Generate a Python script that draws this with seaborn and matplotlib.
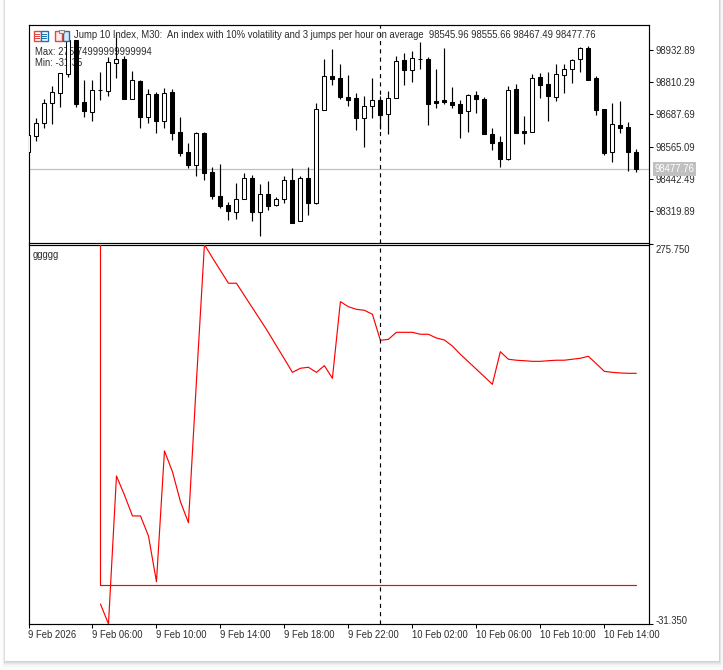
import matplotlib
matplotlib.use("Agg")
import matplotlib.pyplot as plt
from matplotlib.patches import Rectangle
from matplotlib.ticker import FixedLocator
from matplotlib.transforms import ScaledTranslation
import pandas as pd
import seaborn as sns

# 30 minute candles, Jump 10 Index
opens = [98545.5, 98606.6, 98653.7, 98732.7, 98771.0, 98843.6, 98972.2, 98734.0, 98698.3, 98779.9,
         98778.6, 98885.6, 98898.4, 98748.0, 98815.5, 98679.2, 98764.6, 98663.9, 98772.2, 98620.6,
         98544.2, 98495.8, 98616.8, 98467.8, 98374.8, 98340.3, 98316.1, 98363.3, 98443.5, 98316.1,
         98382.4, 98340.3, 98363.3, 98435.9, 98279.2, 98443.5, 98350.5, 98706.0, 98833.4, 98825.7,
         98753.1, 98749.3, 98675.4, 98718.7, 98741.7, 98690.7, 98749.3, 98894.5, 98856.3, 98898.4,
         98898.4, 98737.8, 98741.7, 98734.0, 98726.4, 98699.6, 98760.8, 98745.5, 98611.7, 98581.1,
         98518.7, 98783.7, 98623.2, 98621.9, 98829.6, 98802.8, 98755.7, 98837.2, 98860.1, 98898.4,
         98940.4, 98825.7, 98707.3, 98545.5, 98646.1, 98638.5, 98545.96]
highs = [98611.7, 98672.9, 98746.8, 98796.4, 98844.8, 98976.1, 98972.2, 98819.4, 98819.4, 98849.9,
         98907.3, 98997.7, 98912.4, 98853.8, 98819.4, 98785.0, 98774.8, 98788.8, 98783.7, 98678.0,
         98578.6, 98620.6, 98620.6, 98486.9, 98498.3, 98353.1, 98427.0, 98462.6, 98455.0, 98421.9,
         98433.3, 98373.5, 98452.5, 98481.8, 98451.2, 98486.9, 98730.2, 98899.6, 98937.9, 98879.2,
         98838.5, 98768.4, 98758.2, 98825.7, 98756.9, 98776.1, 98909.8, 98922.6, 98928.9, 98963.3,
         98906.0, 98861.4, 98941.7, 98792.6, 98741.7, 98764.6, 98776.1, 98753.1, 98635.9, 98605.3,
         98796.4, 98804.1, 98681.8, 98841.0, 98844.8, 98849.9, 98879.2, 98880.5, 98898.4, 98944.2,
         98948.0, 98833.4, 98707.3, 98731.5, 98739.1, 98657.6, 98555.66]
lows = [98545.5, 98586.2, 98637.2, 98652.5, 98716.2, 98830.8, 98716.2, 98679.2, 98662.7, 98744.2,
        98758.2, 98827.0, 98748.0, 98748.0, 98637.2, 98655.0, 98616.8, 98637.2, 98591.3, 98530.2,
        98483.0, 98453.7, 98438.4, 98365.8, 98331.4, 98285.6, 98289.4, 98363.3, 98281.7, 98224.4,
        98323.8, 98337.8, 98350.5, 98274.1, 98279.2, 98304.7, 98346.7, 98703.4, 98801.5, 98748.0,
        98721.3, 98628.3, 98564.6, 98675.4, 98633.4, 98614.3, 98749.3, 98801.5, 98813.0, 98862.7,
        98648.7, 98713.6, 98728.9, 98713.6, 98599.0, 98621.9, 98694.5, 98614.3, 98551.8, 98488.1,
        98514.9, 98618.1, 98574.8, 98621.9, 98750.6, 98662.7, 98740.4, 98769.7, 98807.9, 98849.9,
        98820.6, 98686.9, 98532.7, 98506.0, 98618.1, 98471.6, 98467.49]
closes = [98609.2, 98653.7, 98730.2, 98772.2, 98844.8, 98972.2, 98728.9, 98702.2, 98779.9, 98780.5,
          98886.9, 98898.4, 98748.0, 98818.1, 98679.2, 98764.6, 98663.9, 98768.4, 98618.1, 98541.6,
          98495.8, 98616.8, 98465.2, 98377.3, 98339.1, 98320.0, 98363.3, 98443.5, 98316.1, 98382.4,
          98339.1, 98363.3, 98435.9, 98274.1, 98443.5, 98350.5, 98707.3, 98833.4, 98824.5, 98755.7,
          98744.2, 98675.4, 98718.7, 98741.7, 98686.9, 98749.3, 98890.7, 98858.9, 98902.2, 98898.0,
          98728.9, 98732.7, 98736.6, 98725.1, 98694.5, 98760.8, 98748.0, 98614.3, 98579.9, 98518.7,
          98779.9, 98618.1, 98618.1, 98825.7, 98801.5, 98759.5, 98841.0, 98860.1, 98894.5, 98940.4,
          98820.6, 98706.0, 98541.6, 98649.9, 98637.2, 98545.5, 98477.76]

# indicator window, first buffer starts at bar 9
line_bars = list(range(9, 77))
line_values = [-15.2, -31.35, 88.4, 73.0, 56.1, 56.1, 39.9, 2.9, 108.7, 91.9,
               67.6, 50.6, 165.3, 275.75, 265.0, 254.7, 244.4, 244.4, 234.4, 224.5,
               214.6, 204.5, 193.7, 183.1, 172.3, 175.6, 176.4, 172.3, 177.7, 167.5,
               229.5, 225.4, 223.3, 222.5, 219.3, 198.2, 199.0, 204.7, 204.7, 204.7,
               203.1, 203.1, 200.1, 198.5, 193.6, 186.9, 180.9, 174.8, 168.8, 162.6,
               189.0, 182.9, 182.1, 181.7, 181.2, 181.2, 181.7, 182.1, 182.1, 182.9,
               183.7, 185.3, 179.3, 173.1, 172.3, 171.8, 171.5, 171.5]
zero_bars = [9, 9, 76]
zero_values = [275.75, 0.0, 0.0]

price_ticks = [98932.89, 98810.29, 98687.69, 98565.09, 98442.49, 98319.89]
ind_ticks = [275.75, -31.35]
ind_labels = ["275.750", "-31.350"]
time_ticks = [0, 8, 16, 24, 32, 40, 48, 56, 64, 72]
time_labels = ["9 Feb 2026", "9 Feb 06:00", "9 Feb 10:00", "9 Feb 14:00", "9 Feb 18:00",
               "9 Feb 22:00", "10 Feb 02:00", "10 Feb 06:00", "10 Feb 10:00", "10 Feb 14:00"]
crosshair_bar = 44
title_text = "Jump 10 Index, M30:  An index with 10% volatility and 3 jumps per hour on average  98545.96 98555.66 98467.49 98477.76"

W, H = 723, 670
TEXT = "#2b2b2b"
FONT_SIZE = 6.85

sns.set_theme(style="white")
plt.rcParams["font.family"] = ["Liberation Sans", "DejaVu Sans"]
plt.rcParams["font.size"] = FONT_SIZE


def box(left, top, right, bottom):
    return [left / W, 1 - bottom / H, (right - left) / W, (bottom - top) / H]


def px_rect(fig, left, top, right, bottom, **kw):
    fig.add_artist(Rectangle((left / W, 1 - bottom / H), (right - left) / W, (bottom - top) / H,
                             transform=fig.transFigure, **kw))


fig = plt.figure(figsize=(W / 100, H / 100), dpi=100, facecolor="#fcfcfc")

# window with its soft shadow, stronger along the bottom
for grow, shade in [(6, "#f6f6f6"), (4, "#eeeeee"), (3, "#e6e6e6"), (2, "#dddddd"), (1, "#d2d2d2")]:
    px_rect(fig, 5 - grow * 0.4, -5, 719 + grow * 0.6, 661 + grow, facecolor=shade, edgecolor="none", zorder=-5)
px_rect(fig, 5, -5, 719, 661, facecolor="white", edgecolor="none", zorder=-4)

ax_top = fig.add_axes(box(28.5, 24.5, 649.5, 242.5), facecolor="none")
ax_low = fig.add_axes(box(28.5, 244.5, 649.5, 624), facecolor="none")

frame = pd.DataFrame({"bar": range(len(opens)), "open": opens, "high": highs, "low": lows, "close": closes})
up = frame[frame["close"] >= frame["open"]]
down = frame[frame["close"] < frame["open"]]

ax_top.axhline(closes[-1], color="#c0c0c0", lw=0.9, zorder=1)
ax_top.vlines(frame["bar"], frame["low"], frame["high"], color="black", lw=0.85, zorder=3)
ax_top.bar(up["bar"], up["close"] - up["open"], bottom=up["open"], width=0.5,
           facecolor="white", edgecolor="black", lw=0.75, zorder=4)
ax_top.bar(down["bar"], down["open"] - down["close"], bottom=down["close"], width=0.5,
           facecolor="black", edgecolor="black", lw=0.75, zorder=4)
ax_top.set_xlim(0.02, 77.65)
ax_top.set_ylim(98198.3, 99031.5)
ax_top.yaxis.tick_right()
ax_top.yaxis.set_major_locator(FixedLocator(price_ticks))
ax_top.set_yticklabels([f"{v:.2f}" for v in price_ticks])
ax_top.set_xticks([])

sns.lineplot(x=line_bars, y=line_values, ax=ax_low, color="red", lw=0.85, estimator=None, sort=False, zorder=3)
sns.lineplot(x=zero_bars, y=zero_values, ax=ax_low, color="red", lw=0.85, estimator=None, sort=False, zorder=3)
ax_low.set_xlim(0.02, 77.65)
ax_low.set_ylim(-31.35, 275.75)
ax_low.yaxis.tick_right()
ax_low.yaxis.set_major_locator(FixedLocator(ind_ticks))
ax_low.set_yticklabels(ind_labels)
ax_low.set_xticks(time_ticks)
ax_low.set_xticklabels(time_labels, ha="left")

for ax in (ax_top, ax_low):
    ax.axvline(crosshair_bar, color="black", lw=0.85, ls=(0, (3.5, 3.5)), zorder=5)
    ax.tick_params(axis="both", length=3, width=0.75, color="black", labelcolor=TEXT,
                   labelsize=FONT_SIZE, pad=1.2, bottom=ax is ax_low, right=True)
    for spine in ax.spines.values():
        spine.set_visible(True)
        spine.set_color("black")
        spine.set_linewidth(0.85)

# the two scale labels of the indicator sit inside the window height
first_label, last_label = ax_low.get_yticklabels()
first_label.set_transform(first_label.get_transform() + ScaledTranslation(0, -4.5 / 72 * 0.72, fig.dpi_scale_trans))
last_label.set_transform(last_label.get_transform() + ScaledTranslation(0, 3.5 / 72 * 0.72, fig.dpi_scale_trans))

# bid label on the price scale
ax_top.annotate(f"{closes[-1]:.2f}", xy=(1, closes[-1]), xycoords=("axes fraction", "data"),
                xytext=(3.7, 0), textcoords="offset points", va="center", ha="left", color="white",
                fontsize=FONT_SIZE, bbox=dict(boxstyle="square,pad=0.2", fc="#c0c0c0", ec="none"),
                annotation_clip=False, zorder=6)

# header texts sit under the candles
fig.text(74 / W, 1 - 35.5 / H, title_text, color=TEXT, fontsize=FONT_SIZE, va="center", ha="left", zorder=0)
for txt, y in [("Max: 275.74999999999994", 52), ("Min: -31.35", 63.5)]:
    ax_top.text((35 - 28.5) / 621, 1 - (y - 24.5) / 218, txt, transform=ax_top.transAxes,
                color=TEXT, fontsize=FONT_SIZE, va="center", ha="left", zorder=2)
ax_low.text((33 - 28.5) / 621, 1 - (255 - 244.5) / 379.5, "ggggg", transform=ax_low.transAxes,
            color=TEXT, fontsize=FONT_SIZE, va="center", ha="left", zorder=6)

# terminal icons next to the title
red, blue = "#e2483d", "#1f6fb5"
px_rect(fig, 33.5, 31, 40.5, 40.5, facecolor="white", edgecolor=red, lw=1.0, zorder=8)
px_rect(fig, 40.5, 31, 47.5, 40.5, facecolor="white", edgecolor=blue, lw=1.0, zorder=8)
for y in (33.5, 35.6, 37.7):
    px_rect(fig, 35, y, 39.5, y + 1, facecolor=red, edgecolor="none", zorder=8)
    px_rect(fig, 42, y, 46.5, y + 1, facecolor=blue, edgecolor="none", zorder=8)
px_rect(fig, 54.5, 31, 61.5, 40.5, facecolor="#fde9e6", edgecolor=red, lw=1.0, zorder=8)
px_rect(fig, 62.5, 31, 68.5, 40.5, facecolor="#d7e8f6", edgecolor=blue, lw=1.0, zorder=8)
px_rect(fig, 58.5, 30, 64, 33, facecolor="#e8e8e8", edgecolor="#777777", lw=0.6, zorder=8)

fig.savefig("out.png", dpi=100, facecolor=fig.get_facecolor())
